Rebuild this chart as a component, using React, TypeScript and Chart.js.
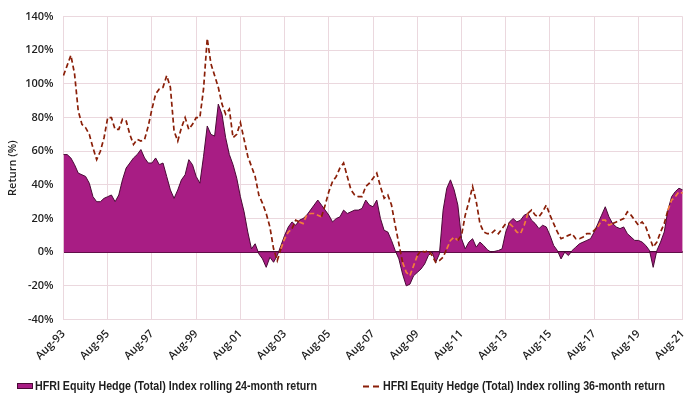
import React, { useEffect, useRef } from "react";
import { Chart, registerables } from "chart.js";
Chart.register(...registerables);

const tickLabels = [
  "Aug-93", "Aug-95", "Aug-97", "Aug-99", "Aug-01", "Aug-03", "Aug-05", "Aug-07",
  "Aug-09", "Aug-11", "Aug-13", "Aug-15", "Aug-17", "Aug-19", "Aug-21",
];

const MONTHS = ["Jan", "Feb", "Mar", "Apr", "May", "Jun", "Jul", "Aug", "Sep", "Oct", "Nov", "Dec"];
// bimonthly categories from Aug-93 to Aug-21
const categories: string[] = [];
for (let i = 0; i <= 168; i++) {
  const m = 7 + 2 * i;
  const y = 1993 + Math.floor(m / 12);
  categories.push(MONTHS[m % 12] + "-" + String(y % 100).padStart(2, "0"));
}

const rolling24 = [
  58, 58, 56, 52, 47, 46, 45, 41, 33, 30, 30, 32,
  33, 34, 30, 34, 43, 50, 53, 56, 58, 61, 56, 53,
  53, 56, 52, 53, 45, 37, 32, 37, 43, 46, 55, 52,
  45, 41, 57, 75, 70, 69, 88, 82, 68, 58, 52, 44,
  33, 24, 12, 2, 5, -1, -4, -9, -3, -6, -2, 4,
  10, 15, 18, 16, 19, 20, 22, 25, 28, 31, 28, 25,
  22, 18, 20, 21, 25, 23, 24, 25, 25, 26, 31, 28,
  27, 31, 20, 13, 12, 7, 1, -4, -13, -20, -19, -14,
  -12, -10, -7, -2, 0, -6, -1, 25, 38, 43, 37, 28,
  8, 2, 6, 8, 3, 6, 4, 1.5, 0, 0.5, 1, 2,
  12, 18, 20, 18, 19, 22, 23, 19, 17, 14, 16, 15,
  10, 4, 1, -4, 0, -2, 1, 3, 5, 6, 7, 8,
  12, 17, 22, 27, 21, 17, 15, 14, 15, 11, 9, 7,
  7, 6, 4, 1, -9, 1, 6, 12, 25, 33, 36, 38, 37,
];

const rolling36 = [
  105, 111, 117, 106, 84, 76, 74, 70, 62, 55, 60, 68,
  80, 80, 73, 73, 79, 78, 70, 64, 67, 66, 67, 75,
  85, 94, 97, 98, 105, 98, 72, 66, 74, 80, 73, 76,
  80, 80, 97, 127, 112, 105, 98, 88, 82, 85, 68, 70,
  77, 67, 57, 51, 45, 34, 29, 23, 15, 2, -5, 2,
  8, 12, 14, 19, 18, 17, 22, 23, 23, 22, 21, 28,
  36, 42, 45, 50, 53, 45, 37, 34, 33, 33, 39, 41,
  44, 47, 39, 32, 34, 28, 16, 5, -6, -12, -14, -8,
  -2, 1, 0, 1, -2, -6, -5, -3, 2, 7, 9, 7,
  10, 22, 30, 39, 30, 17, 12, 11, 11, 13, 11, 14,
  17, 17, 15, 12, 11, 16, 23, 25, 22, 21, 24, 28,
  22, 17, 12, 8, 9, 10, 11, 8, 8, 9, 11, 11,
  13, 15, 19, 19, 16, 17, 18, 19, 20, 24, 22, 19,
  16, 18, 15, 9, 3, 6, 12, 17, 25, 31, 33, 36, 35,
];

const label24 = "HFRI Equity Hedge (Total) Index rolling 24-month return";
const label36 = "HFRI Equity Hedge (Total) Index rolling 36-month return";

const PURPLE = "#A81D84";
const PURPLE_EDGE = "#4A0A36";
const DARK_RED = "#8A1F08";
const ORANGE = "#F27E3A";
const GRID = "#EBD8DE";
const TEXT = "#1E1E1E";
const FONT = "'Open Sans', sans-serif";
const LEGEND_FONT = "bold 12px 'Liberation Sans', 'Open Sans', sans-serif";

const inside = (i: number) => {
  const a = rolling24[i];
  const d = rolling36[i];
  return a >= 0 ? d >= 0 && d <= a : d <= 0 && d >= a;
};

const legendPlugin = {
  id: "customLegend",
  afterDraw(chart: any) {
    const ctx = chart.ctx;
    ctx.save();
    const y = 386.5;
    ctx.fillStyle = PURPLE;
    ctx.fillRect(17, 383, 16, 6);
    ctx.strokeStyle = PURPLE_EDGE;
    ctx.lineWidth = 1;
    ctx.strokeRect(17.5, 383.5, 15, 5);
    ctx.font = LEGEND_FONT;
    ctx.fillStyle = TEXT;
    ctx.textBaseline = "middle";
    ctx.textAlign = "left";
    ctx.fillText(label24, 35, y, 282);
    ctx.strokeStyle = DARK_RED;
    ctx.lineWidth = 2;
    ctx.beginPath();
    ctx.moveTo(363, y);
    ctx.lineTo(369, y);
    ctx.moveTo(373, y);
    ctx.lineTo(379, y);
    ctx.stroke();
    ctx.fillText(label36, 383, y, 282);
    ctx.restore();
  },
};

export default function App() {
  const ref = useRef<HTMLCanvasElement>(null);
  useEffect(() => {
    const canvas = ref.current;
    if (!canvas) return;
    const chart = new Chart(canvas, {
      type: "line",
      data: {
        labels: categories,
        datasets: [
          {
            label: label36,
            data: rolling36,
            borderColor: DARK_RED,
            borderWidth: 1.7,
            borderDash: [5, 3],
            pointRadius: 0,
            fill: false,
            tension: 0,
            order: 0,
            segment: {
              borderColor: (c: any) =>
                inside(c.p0DataIndex) && inside(c.p1DataIndex) ? ORANGE : DARK_RED,
            },
          } as any,
          {
            label: label24,
            data: rolling24,
            borderColor: PURPLE_EDGE,
            borderWidth: 1,
            backgroundColor: PURPLE,
            pointRadius: 0,
            fill: "origin",
            tension: 0,
            order: 1,
          },
        ],
      },
      options: {
        responsive: false,
        animation: false,
        layout: { padding: { top: 11, right: 13.5, left: 0, bottom: 0 } },
        plugins: { legend: { display: false }, tooltip: { enabled: false } },
        scales: {
          x: {
            type: "category",
            offset: false,
            grid: { color: GRID, lineWidth: 1, drawTicks: false },
            border: { display: true, color: GRID },
            ticks: {
              autoSkip: false,
              minRotation: 45,
              maxRotation: 45,
              padding: 8,
              color: TEXT,
              font: { family: FONT, size: 11, weight: "600" as any },
              callback: (_v: any, i: number) => (i % 12 === 0 ? tickLabels[i / 12] : null),
            },
            afterFit: (s: any) => {
              s.height = 78.5;
            },
          },
          y: {
            min: -40,
            max: 140,
            grid: {
              drawTicks: false,
              color: (c: any) => (c.tick && c.tick.value === 0 ? PURPLE_EDGE : GRID),
              lineWidth: (c: any) => (c.tick && c.tick.value === 0 ? 2 : 1),
            },
            border: { display: true, color: GRID },
            ticks: {
              stepSize: 20,
              padding: 10,
              color: TEXT,
              font: { family: FONT, size: 11, weight: "600" as any },
              callback: (v: any) => v + "%",
            },
            title: {
              display: true,
              text: "Return (%)",
              color: TEXT,
              font: { family: FONT, size: 11, weight: "600" as any },
              padding: { top: 6, bottom: 0 },
            },
            afterFit: (s: any) => {
              s.width = 63.5;
            },
          },
        },
      },
      plugins: [legendPlugin],
    });
    return () => chart.destroy();
  }, []);
  return (
    <div style={{ position: "fixed", left: 0, top: 0, width: 700, height: 398, background: "#fff" }}>
      <canvas ref={ref} width={700} height={398} style={{ display: "block" }} />
    </div>
  );
}
